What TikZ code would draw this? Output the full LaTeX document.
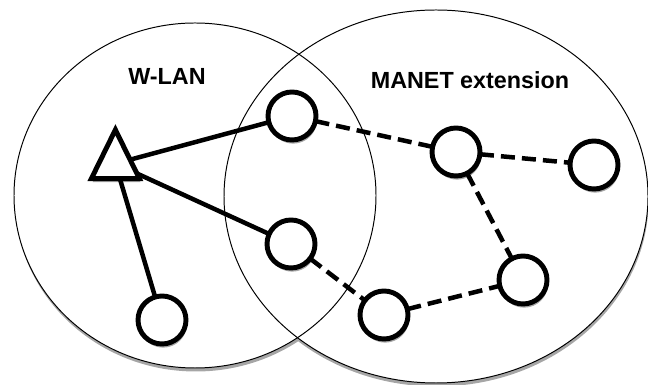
\documentclass[tikz,border=0pt]{standalone}
\usepackage{fontspec}
\setmainfont{Liberation Sans}
\usepackage{tikz}
\usetikzlibrary{shapes.geometric}

\begin{document}
\begin{tikzpicture}[
        soft shadow/.style={preaction={fill=black!35,transform canvas={shift={(0.8pt,-2.6pt)}}}},
        host/.style={circle,draw,fill=white,line width=3.5pt,minimum size=1.2cm,inner sep=0pt,outer sep=0pt,soft shadow},
        ap/.style={isosceles triangle,draw,fill=white,line width=3.5pt,shape border rotate=90,
                   isosceles triangle stretches,minimum height=1.22cm,minimum width=1.2cm,
                   inner sep=0pt,outer sep=0pt,soft shadow},
        link/.style={draw,line width=3.2pt},
        adhoc/.style={draw,line width=3.2pt,dash pattern=on 10pt off 5pt},
        area/.style={line width=0.7pt},
        title/.style={font=\bfseries\fontsize{16.6}{20}\selectfont}]

      \useasboundingbox (0,0) rectangle (16.2,9.625);

      % coverage areas, shadow first
      \fill[black!35] (4.895,4.65) ellipse [x radius=4.525, y radius=4.3125];
      \fill[black!35] (10.915,4.625) ellipse [x radius=5.3, y radius=4.6625];
      \fill[white] (4.875,4.7375) ellipse [x radius=4.525, y radius=4.3125];
      \fill[white] (10.9,4.7125) ellipse [x radius=5.3, y radius=4.6625];
      \draw[area] (4.875,4.7375) ellipse [x radius=4.525, y radius=4.3125];
      \draw[area] (10.9,4.7125) ellipse [x radius=5.3, y radius=4.6625];

      \node[title] (wlan)  at (4.175,7.72) {W-LAN};
      \node[title] (manet) at (11.75,7.62) {MANET extension};

      % access point and hosts
      \node[ap,anchor=apex] (ap) at (2.885,6.38) {};
      \node[host] (h_1) at (7.3,6.725)   {};
      \node[host] (h_2) at (7.275,3.525) {};
      \node[host] (h_3) at (4.05,1.625)  {};
      \node[host] (h_4) at (11.4,5.825)  {};
      \node[host] (h_5) at (14.85,5.5)   {};
      \node[host] (h_6) at (13.075,2.625) {};
      \node[host] (h_7) at (9.6,1.75)    {};

      \path (ap)  edge[link] (h_1)
                  edge[link] (h_2)
                  edge[link] (h_3)
            (h_1) edge[adhoc] (h_4)
            (h_4) edge[adhoc] (h_5)
                  edge[adhoc] (h_6)
            (h_2) edge[adhoc] (h_7)
            (h_7) edge[adhoc] (h_6);
\end{tikzpicture}
\end{document}
